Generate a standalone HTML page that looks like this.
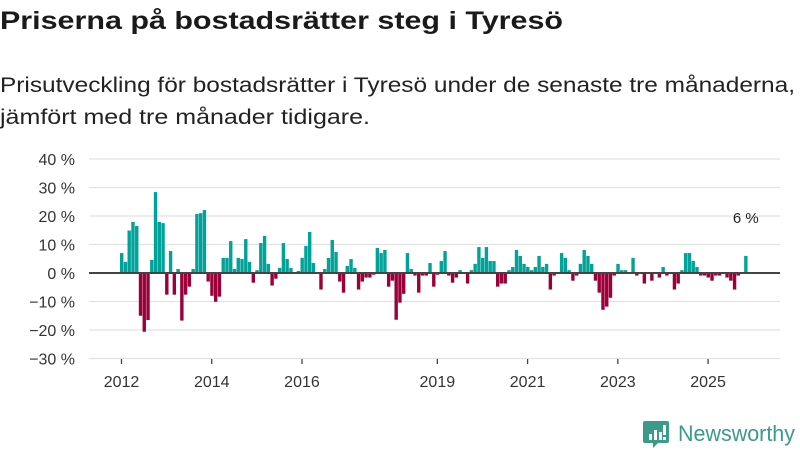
<!DOCTYPE html>
<html><head><meta charset="utf-8"><style>
html,body{margin:0;padding:0;background:#fff;width:800px;height:450px;overflow:hidden}
svg{display:block;font-family:"Liberation Sans","DejaVu Sans",sans-serif}
</style></head><body>
<svg width="800" height="450" viewBox="0 0 800 450">
<text x="0" y="29" font-size="25" font-weight="bold" fill="#1a1a1a" textLength="563" lengthAdjust="spacingAndGlyphs">Priserna på bostadsrätter steg i Tyresö</text>
<text x="0" y="92" font-size="21" fill="#222" textLength="795" lengthAdjust="spacingAndGlyphs">Prisutveckling för bostadsrätter i Tyresö under de senaste tre månaderna,</text>
<text x="0" y="124" font-size="21" fill="#222" textLength="370" lengthAdjust="spacingAndGlyphs">jämfört med tre månader tidigare.</text>
<g id="grid"></g><g id="bars"></g><g id="xaxis"></g>
<text x="744" y="240" font-size="15" fill="#222" text-anchor="middle" id="lastlabel">6 %</text>
<g>
<path d="M645 421h22a2 2 0 0 1 2 2v18a2 2 0 0 1-2 2h-9l-5 5v-5h-8a2 2 0 0 1-2-2v-18a2 2 0 0 1 2-2z" fill="#3a9a8c"/>
<rect x="649" y="434" width="3" height="6" fill="#fff"/><rect x="654" y="430" width="3" height="10" fill="#fff"/><rect x="659" y="432" width="3" height="8" fill="#fff"/><rect x="663" y="425" width="3" height="10" fill="#fff"/><rect x="663" y="437" width="3" height="3" fill="#fff"/>
<text x="678" y="441" font-size="22" fill="#3a9a8c" textLength="117" lengthAdjust="spacingAndGlyphs">Newsworthy</text>
</g>
</svg>
<script>
const values=[7.0,3.9,14.9,17.9,16.5,-15,-20.6,-16.5,4.6,28.4,17.9,17.5,-7.6,7.7,-7.6,1.4,-16.7,-7.6,-4.8,1.4,20.7,21,22.1,-3,-8,-10.1,-8.3,5.3,5.3,11.2,1.4,5.3,4.9,11.9,3.9,-3.4,1.0,10.5,13,3.2,-4.4,-2,1.8,10.5,4.9,1.8,0,0.7,5.3,9.5,14.4,3.5,0,-5.8,1.4,5.3,11.6,7.4,-3.0,
-6.9,2.5,4.9,1.8,-5.8,-3,-1.6,-1.6,-0.6,8.8,7.0,8.1,-4.8,-2.7,-16.4,-10.4,-7.3,7.0,1.4,-0.9,-6.9,-0.9,-0.9,3.5,-4.8,-0.6,4.2,7.7,-0.9,-3.4,-1.6,1.0,0,-3.7,1.0,3.2,9.1,5.3,9.1,4.2,4.2,-4.8,-3.7,-3.7,1.0,2.1,8.1,6.0,3.2,2.1,1.0,2.1,6.0,2.1,3.2,-5.8,-0.9,
0,7.0,5.3,1.0,-2.7,-0.9,3.2,8.1,6.0,3.2,-2.7,-6.9,-12.9,-11.8,-8.7,-0.9,3.2,1.0,1.0,0,5.3,-0.9,0,-3.7,0,-2.7,0,-1.6,2.1,-0.9,0,-5.8,-3.7,1.0,7.0,7.0,4.2,2.1,-0.9,-0.9,-1.6,-2.7,-0.9,-0.9,0,-1.6,-2.7,-5.8,-0.9,0,6.0];
const startYear=2012;
const yTicks=[40,30,20,10,0,-10,-20,-30];
const yTickLabels=["40 %","30 %","20 %","10 %","0 %","−10 %","−20 %","−30 %"];
const xTickYears=[2012,2014,2016,2019,2021,2023,2025];
const NS="http://www.w3.org/2000/svg";
const y=v=>273-v*2.85;
const x=i=>120+i*3.76;
function mk(t,a,p){const e=document.createElementNS(NS,t);for(const k in a)e.setAttribute(k,a[k]);p.appendChild(e);return e;}
const grid=document.getElementById('grid');
yTicks.forEach((t,k)=>{
 if(t!==0){const l=mk('line',{x1:89,x2:780,y1:y(t),y2:y(t),stroke:'#e2e2e2','stroke-width':1.3},grid);
 
 }
 const tx=mk('text',{x:75,y:y(t)+6,'font-size':16,fill:'#333','text-anchor':'end'},grid);
 tx.textContent=yTickLabels[k];
 
 
});
const bars=document.getElementById('bars');
values.forEach((v,i)=>{
 const r=mk('rect',{x:x(i),width:3.4,y:Math.min(y(v),273),height:Math.abs(y(v)-273),fill:v>=0?'#00a39a':'#9b0039'},bars);
 
 
});
const zl=mk('line',{x1:89,x2:780,y1:273,y2:273,stroke:'#444','stroke-width':2},bars);


const last=values.length-1;
document.getElementById('lastlabel').setAttribute('x',x(last)+1.7);
document.getElementById('lastlabel').setAttribute('y',y(values[last])-33);
const xa=document.getElementById('xaxis');
xTickYears.forEach(yr=>{
 const px=x((yr-startYear)*12)+1.5;
 const tk=mk('line',{x1:px,x2:px,y1:359,y2:364,stroke:'#444','stroke-width':1.3},xa);
 
 
 const tx=mk('text',{x:px,y:387,'font-size':16,fill:'#333','text-anchor':'middle'},xa);
 tx.textContent=yr;
 
 
});
</script>
</body></html>
